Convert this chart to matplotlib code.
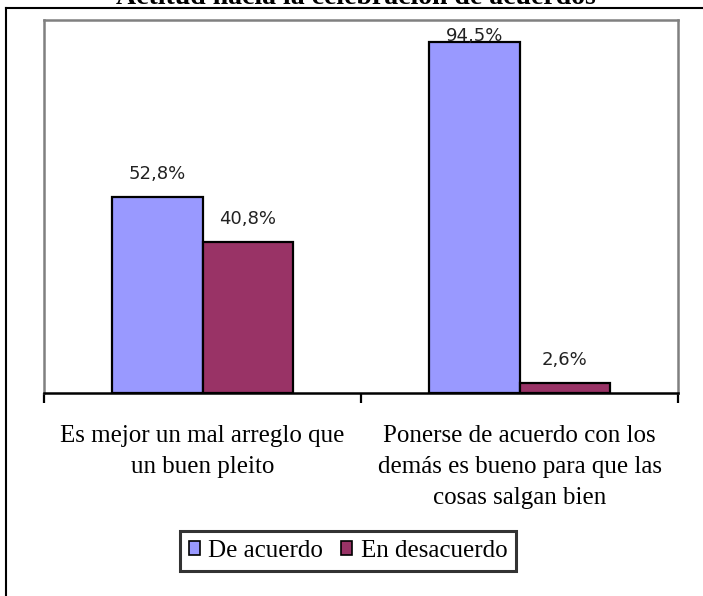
#!/usr/bin/env python3
# -*- coding: utf-8 -*-
"""
Actitud hacia la celebración de acuerdos - grouped bar chart
"""
import matplotlib
matplotlib.use('Agg')
import matplotlib.pyplot as plt
from matplotlib.lines import Line2D

# data
categories = ['Es mejor un mal arreglo que\nun buen pleito',
              'Ponerse de acuerdo con los\ndemás es bueno para que las\ncosas salgan bien']
series     = ['De acuerdo', 'En desacuerdo']
de_acuerdo    = [52.8, 94.5]
en_desacuerdo = [40.8, 2.6]
title = 'Actitud hacia la celebración de acuerdos'

COLORS  = ['#9999FF', '#993366']
SERIF   = 'Liberation Serif'
W, H    = 703, 596
BAR_W   = 0.284
Y_TOP   = 100.5

fig = plt.figure(figsize=(W / 100, H / 100), dpi=100)
fig.patch.set_facecolor('white')

# axes placed in pixel terms of the reference
left, right, top, bottom = 44, 678, 20, 393
axis = fig.add_axes([left / W, 1 - bottom / H, (right - left) / W, (bottom - top) / H])

xpos = list(range(len(categories)))
for i, (vals, color, name) in enumerate(zip([de_acuerdo, en_desacuerdo], COLORS, series)):
    offs = [x + (i - 0.5) * BAR_W for x in xpos]
    axis.bar(offs, vals, width=BAR_W, color=color, edgecolor='black',
             linewidth=1.6, label=name, zorder=3)
    for x, v in zip(offs, vals):
        ylab = min(v + 6.2, Y_TOP - 4.4)
        axis.text(x, ylab, f'{v:.1f}%'.replace('.', ','), ha='center', va='center',
                  fontsize=13, color='#222222', family='DejaVu Sans', zorder=4)

axis.set_xlim(-0.5, len(categories) - 0.5)
axis.set_ylim(0, Y_TOP)
axis.set_yticks([])

# category labels
axis.set_xticks(xpos)
axis.set_xticklabels(categories, family=SERIF, fontsize=18, linespacing=1.52)
axis.tick_params(axis='x', which='major', length=0, pad=23)
axis.set_xticks([-0.5, 0.5, 1.5], minor=True)
axis.tick_params(axis='x', which='minor', length=7.5, width=1.6, direction='out', color='black')

for side in ['left', 'right', 'top']:
    axis.spines[side].set_color('#808080')
    axis.spines[side].set_linewidth(1.8)
axis.spines['bottom'].set_color('black')
axis.spines['bottom'].set_linewidth(1.8)

# legend
handles = [plt.Rectangle((0, 0), 1, 1, facecolor=c, edgecolor='black', linewidth=1.2)
           for c in COLORS]
leg = fig.legend(handles, series, loc='center', bbox_to_anchor=(348 / W, 1 - 551 / H),
                 ncol=2, frameon=True, fancybox=False, prop={'family': SERIF, 'size': 18},
                 handlelength=0.45, handleheight=0.45, handletextpad=0.35,
                 columnspacing=0.7, borderpad=0.35)
leg.get_frame().set_edgecolor('black')
leg.get_frame().set_linewidth(2.2)

# outer chart border (cut at right and bottom)
fig.add_artist(Line2D([6 / W, 6 / W], [0, 1 - 8 / H], color='black', linewidth=1.5))
fig.add_artist(Line2D([6 / W, 1], [1 - 8 / H, 1 - 8 / H], color='black', linewidth=1.5))

# title, mostly cut off at the top edge as in the reference
fig.text(356 / W, 1 - 4 / H, title, ha='center', va='baseline', family=SERIF,
         fontsize=20, fontweight='bold')

fig.savefig('out.png', dpi=100, facecolor='white')
